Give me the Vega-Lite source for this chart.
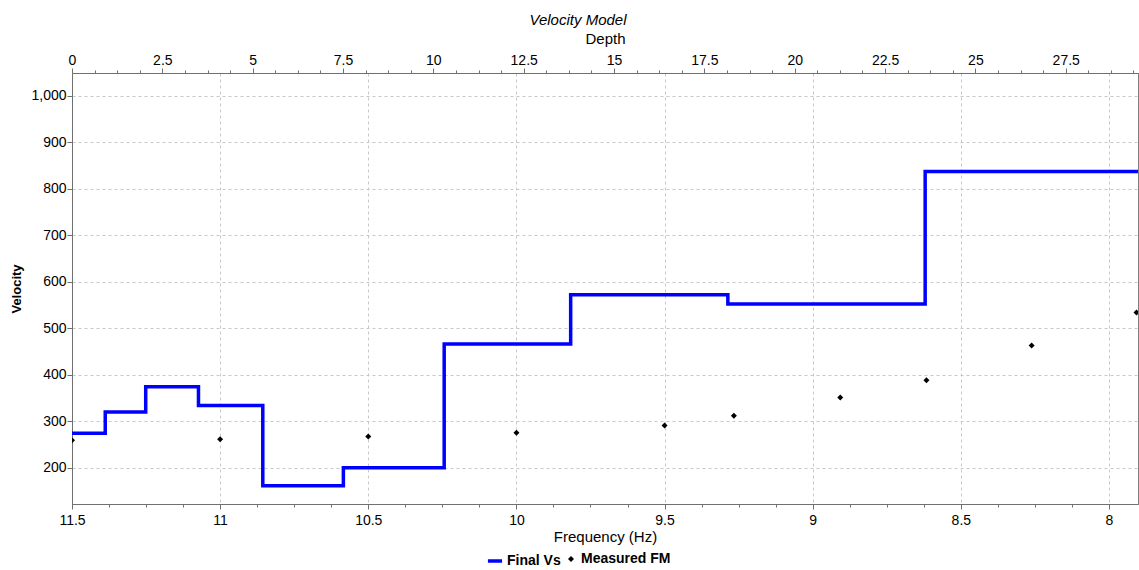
{
  "$schema": "https://vega.github.io/schema/vega-lite/v6.json",
  "width": 1066,
  "height": 431,
  "autosize": {"type": "none"},
  "padding": {"left": 72, "top": 73, "right": 1, "bottom": 66},
  "background": "white",
  "title": {"text": "Velocity Model", "font": "Liberation Sans", "fontStyle": "italic", "fontWeight": "normal", "fontSize": 15, "color": "black", "anchor": "middle", "dx": -27, "offset": 3},
  "config": {
    "view": {"stroke": "#808080", "strokeWidth": 1},
    "axis": {
      "labelFont": "Liberation Sans", "labelFontSize": 14, "labelColor": "black",
      "titleFont": "Liberation Sans", "titleFontSize": 15, "titleFontWeight": "normal", "titleColor": "black",
      "domainColor": "#707070", "tickColor": "#707070", "gridColor": "#c8c8c8", "gridDash": [3, 3], "gridWidth": 1
    },
    "legend": {
      "labelFont": "Liberation Sans", "labelFontSize": 14, "labelFontWeight": "bold", "labelColor": "black",
      "labelOffset": 3
    }
  },
  "datasets": {
    "model": [
      {"depth": 0, "velocity": 274, "series": "Final Vs"},
      {"depth": 0.92, "velocity": 320, "series": "Final Vs"},
      {"depth": 2.04, "velocity": 374, "series": "Final Vs"},
      {"depth": 3.5, "velocity": 334, "series": "Final Vs"},
      {"depth": 5.28, "velocity": 161, "series": "Final Vs"},
      {"depth": 7.51, "velocity": 200, "series": "Final Vs"},
      {"depth": 10.3, "velocity": 466, "series": "Final Vs"},
      {"depth": 13.8, "velocity": 572, "series": "Final Vs"},
      {"depth": 18.15, "velocity": 552, "series": "Final Vs"},
      {"depth": 23.61, "velocity": 837, "series": "Final Vs"},
      {"depth": 29.5, "velocity": 837, "series": "Final Vs"}
    ],
    "measured": [
      {"frequency": 11.5, "velocity": 259, "series": "Measured FM"},
      {"frequency": 11.0, "velocity": 261, "series": "Measured FM"},
      {"frequency": 10.5, "velocity": 267, "series": "Measured FM"},
      {"frequency": 10.0, "velocity": 275, "series": "Measured FM"},
      {"frequency": 9.5, "velocity": 291, "series": "Measured FM"},
      {"frequency": 9.266, "velocity": 312, "series": "Measured FM"},
      {"frequency": 8.907, "velocity": 351, "series": "Measured FM"},
      {"frequency": 8.616, "velocity": 388, "series": "Measured FM"},
      {"frequency": 8.261, "velocity": 463, "series": "Measured FM"},
      {"frequency": 7.907, "velocity": 534, "series": "Measured FM"}
    ]
  },
  "encoding": {
    "y": {
      "field": "velocity", "type": "quantitative",
      "scale": {"domain": [122, 1049], "nice": false, "zero": false},
      "axis": {
        "title": "Velocity", "titleFontWeight": "bold", "titleFontSize": 13, "titlePadding": 7, "labelPadding": 1,
        "values": [200, 300, 400, 500, 600, 700, 800, 900, 1000],
        "format": ",d",
        "grid": true, "tickSize": 5,
        "labelOverlap": false, "labelFlush": false
      }
    }
  },
  "layer": [
    {
      "data": {"name": "measured"},
      "mark": {"type": "point", "filled": true, "size": 36, "opacity": 1, "color": "black", "clip": true},
      "encoding": {
        "x": {
          "field": "frequency", "type": "quantitative",
          "scale": {"domain": [11.5, 7.902], "nice": false, "zero": false},
          "axis": {
            "orient": "bottom", "title": "Frequency (Hz)", "titlePadding": 2, "labelPadding": 4,
            "values": [11.5, 11.375, 11.25, 11.125, 11, 10.875, 10.75, 10.625, 10.5, 10.375, 10.25, 10.125, 10, 9.875, 9.75, 9.625, 9.5, 9.375, 9.25, 9.125, 9, 8.875, 8.75, 8.625, 8.5, 8.375, 8.25, 8.125, 8],
            "labelExpr": "abs(datum.value*2 - round(datum.value*2)) < 0.001 ? format(datum.value, '.1~f') : ''",
            "grid": true,
            "gridOpacity": {"condition": {"test": "abs(datum.value*2 - round(datum.value*2)) < 0.001", "value": 1}, "value": 0},
            "tickSize": {"condition": {"test": "abs(datum.value*2 - round(datum.value*2)) < 0.001", "value": 5}, "value": 3},
            "labelFlush": false, "labelOverlap": false
          }
        },
        "shape": {
          "field": "series", "type": "nominal",
          "scale": {"domain": ["Measured FM"], "range": ["diamond"]},
          "legend": {"title": null, "orient": "none", "legendX": 492, "legendY": 479, "symbolSize": 36, "symbolFillColor": "black", "symbolStrokeWidth": 0}
        }
      }
    },
    {
      "data": {"name": "model"},
      "mark": {"type": "line", "interpolate": "step-after", "strokeWidth": 3.5, "clip": true},
      "encoding": {
        "x": {
          "field": "depth", "type": "quantitative",
          "scale": {"domain": [0, 29.5], "nice": false, "zero": false},
          "axis": {
            "orient": "top", "title": "Depth", "titleY": -30, "titleBaseline": "alphabetic", "labelPadding": 1, "grid": false,
            "values": [0, 0.625, 1.25, 1.875, 2.5, 3.125, 3.75, 4.375, 5, 5.625, 6.25, 6.875, 7.5, 8.125, 8.75, 9.375, 10, 10.625, 11.25, 11.875, 12.5, 13.125, 13.75, 14.375, 15, 15.625, 16.25, 16.875, 17.5, 18.125, 18.75, 19.375, 20, 20.625, 21.25, 21.875, 22.5, 23.125, 23.75, 24.375, 25, 25.625, 26.25, 26.875, 27.5, 28.125, 28.75, 29.375],
            "labelExpr": "abs(datum.value/2.5 - round(datum.value/2.5)) < 0.001 ? format(datum.value, '.1~f') : ''",
            "tickSize": {"condition": {"test": "abs(datum.value/2.5 - round(datum.value/2.5)) < 0.001", "value": 5}, "value": 3},
            "labelFlush": false, "labelOverlap": false
          }
        },
        "color": {
          "field": "series", "type": "nominal",
          "scale": {"domain": ["Final Vs"], "range": ["#0000ff"]},
          "legend": {"title": null, "orient": "none", "legendX": 414, "legendY": 479, "symbolType": "stroke", "symbolSize": 200, "symbolStrokeWidth": 3.5}
        }
      }
    }
  ],
  "resolve": {"scale": {"x": "independent"}, "axis": {"x": "independent"}}
}
